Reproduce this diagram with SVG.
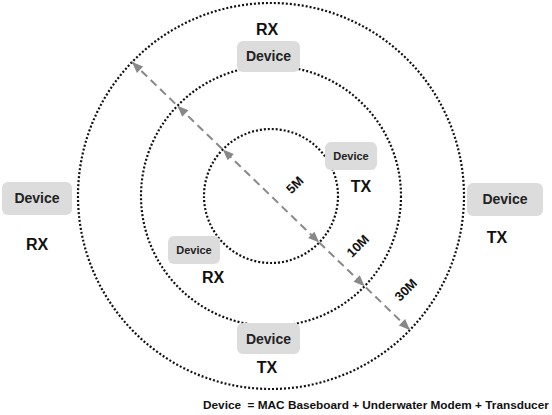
<svg xmlns="http://www.w3.org/2000/svg" width="552" height="415" viewBox="0 0 552 415">
<defs>
<style>
.ring{fill:none;stroke:#111;stroke-width:2.2;stroke-dasharray:2 2}
.box{fill:#dcdcdc}
.dev{font-family:"Liberation Sans",Arial,sans-serif;font-weight:bold;font-size:14px;fill:#222;text-anchor:middle}
.devs{font-family:"Liberation Sans",Arial,sans-serif;font-weight:bold;font-size:11px;fill:#222;text-anchor:middle}
.role{font-family:"Liberation Sans",Arial,sans-serif;font-weight:bold;font-size:16px;fill:#111;text-anchor:middle}
.dist{font-family:"Liberation Sans",Arial,sans-serif;font-weight:bold;font-size:13px;fill:#111;text-anchor:middle}
.line{stroke:#888;stroke-width:2;stroke-dasharray:8 5;fill:none}
.note{font-family:"Liberation Sans",Arial,sans-serif;font-weight:bold;font-size:11.8px;fill:#111;white-space:pre}
</style>
<path id="ah" d="M0,0 L-11,-4.5 L-11,4.5 Z" fill="#888"/>
</defs>
<g id="rings">
<circle class="ring" cx="271" cy="196" r="193"/>
<circle class="ring" cx="271" cy="196" r="130"/>
<circle class="ring" cx="271" cy="196" r="67"/>
</g>
<g id="connectors">
<line class="line" x1="132" y1="62" x2="410" y2="330"/>
<use href="#ah" transform="translate(132.1,62.1) rotate(223.95)"/>
<use href="#ah" transform="translate(177.4,105.8) rotate(223.95)"/>
<use href="#ah" transform="translate(222.8,149.5) rotate(223.95)"/>
<use href="#ah" transform="translate(319.2,242.5) rotate(43.95)"/>
<use href="#ah" transform="translate(364.6,286.2) rotate(43.95)"/>
<use href="#ah" transform="translate(409.9,329.9) rotate(43.95)"/>
<text class="dist" transform="translate(298,188) rotate(-45)">5M</text>
<text class="dist" transform="translate(361,249) rotate(-45)">10M</text>
<text class="dist" transform="translate(409,293) rotate(-45)">30M</text>
</g>
<g id="node-top">
<text class="role" x="267" y="35">RX</text>
<rect class="box" x="237" y="41" width="63" height="31" rx="6"/>
<text class="dev" x="268.5" y="61">Device</text>
</g>
<g id="node-left">
<rect class="box" x="2" y="182" width="70" height="33" rx="6"/>
<text class="dev" x="37" y="203">Device</text>
<text class="role" x="37" y="250">RX</text>
</g>
<g id="node-right">
<rect class="box" x="467" y="183" width="76" height="33" rx="6"/>
<text class="dev" x="505" y="204">Device</text>
<text class="role" x="497" y="243">TX</text>
</g>
<g id="node-bottom">
<rect class="box" x="237" y="323" width="63" height="31" rx="6"/>
<text class="dev" x="268.5" y="344">Device</text>
<text class="role" x="267" y="373">TX</text>
</g>
<g id="node-inner-tx">
<rect class="box" x="325" y="142" width="52" height="28" rx="6"/>
<text class="devs" x="351" y="160">Device</text>
<text class="role" x="361" y="192">TX</text>
</g>
<g id="node-inner-rx">
<rect class="box" x="168" y="236" width="52" height="28" rx="6"/>
<text class="devs" x="194" y="254">Device</text>
<text class="role" x="213" y="283">RX</text>
</g>
<text class="note" x="203" y="409">Device  = MAC Baseboard + Underwater Modem + Transducer</text>
</svg>
